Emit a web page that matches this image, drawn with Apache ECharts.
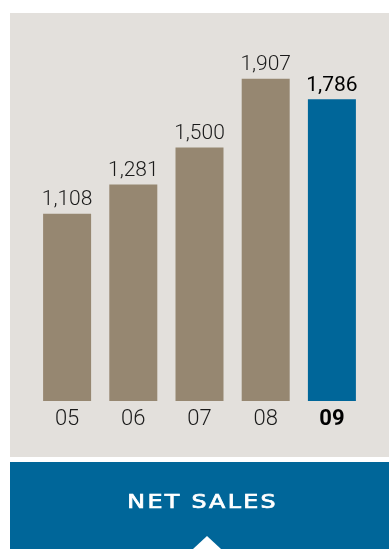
<!DOCTYPE html>
<html>
<head>
<meta charset="utf-8">
<script src="https://cdn.jsdelivr.net/npm/echarts@6/dist/echarts.min.js"></script>
<style>
  html, body { margin: 0; padding: 0; background: #ffffff; }
  #chart { width: 389px; height: 549px; }
</style>
</head>
<body>
<div id="chart"></div>
<script>
// Net sales by fiscal year
const years = ['05', '06', '07', '08', '09'];
const netSales = [1108, 1281, 1500, 1907, 1786];
const highlightYear = '09';
const title = 'NET SALES';

const TAN = '#968771';
const BLUE = '#006699';
const PANEL = '#e3e0dc';
const FONT = 'Roboto, "Liberation Sans", Arial, sans-serif';

const chart = echarts.init(document.getElementById('chart'), null, { renderer: 'canvas' });

const barData = netSales.map((v, i) => {
  const hot = years[i] === highlightYear;
  return {
    value: v,
    itemStyle: { color: hot ? BLUE : TAN },
    label: { color: hot ? '#000000' : '#1a1a1a', fontWeight: hot ? 400 : 300 }
  };
});

chart.setOption({
  animation: false,
  grid: { left: 34, right: 24, top: 63, bottom: 148 },
  xAxis: {
    type: 'category',
    data: years,
    axisLine: { show: false },
    axisTick: { show: false },
    axisLabel: {
      interval: 0,
      margin: 7,
      fontFamily: FONT,
      fontSize: 22,
      fontWeight: 300,
      color: '#1a1a1a',
      formatter: v => v === highlightYear ? '{b|' + v + '}' : v,
      rich: {
        b: { fontFamily: FONT, fontSize: 22, fontWeight: 'bold', color: '#000000' }
      }
    }
  },
  yAxis: {
    type: 'value',
    min: 0,
    max: 2000,
    show: false,
    splitLine: { show: false }
  },
  series: [{
    type: 'bar',
    data: barData,
    barWidth: 48,
    label: {
      show: true,
      position: 'top',
      distance: 3,
      fontFamily: FONT,
      fontSize: 21,
      formatter: p => p.value.toLocaleString('en-US')
    }
  }],
  graphic: [
    { type: 'rect', z: -10, shape: { x: 10, y: 13, width: 379, height: 444 }, style: { fill: PANEL } },
    { type: 'rect', z: -10, shape: { x: 10, y: 462, width: 379, height: 87 }, style: { fill: BLUE } },
    {
      type: 'text', z: 10,
      x: 201.5, y: 503.5,
      scaleX: 1.25,
      style: {
        text: title.split('').join('\u200A'),
        fill: '#ffffff',
        stroke: '#ffffff',
        lineWidth: 0.7,
        font: '19px "DejaVu Sans", sans-serif',
        align: 'center',
        verticalAlign: 'middle'
      }
    },
    {
      type: 'polygon', z: 10,
      shape: { points: [[193, 549], [207, 536], [221, 549]] },
      style: { fill: '#ffffff' }
    }
  ]
});
</script>
</body>
</html>
